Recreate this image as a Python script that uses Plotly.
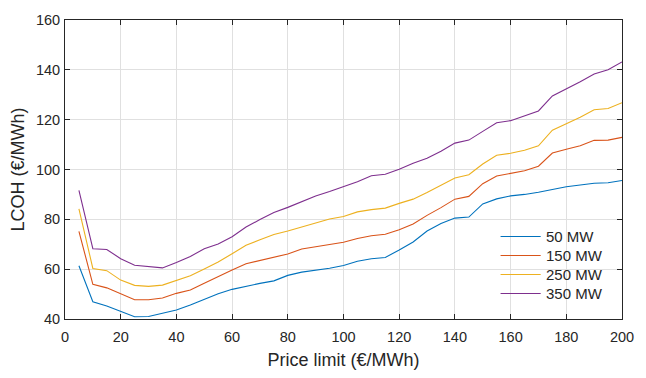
import plotly.graph_objects as go

# Price limit (€/MWh)
price_limit = list(range(5, 205, 5))

# LCOH (€/MWh) for each electrolyser size
lcoh_50 = [61.4, 46.9, 45.2, 43.2, 40.9, 41.0, 42.2, 43.6, 45.6, 47.8,
           50.1, 51.9, 53.2, 54.3, 55.3, 57.5, 58.8, 59.5, 60.4, 61.5,
           63.2, 64.2, 64.7, 67.7, 70.9, 75.3, 78.3, 80.5, 80.9, 86.2,
           88.2, 89.4, 90.0, 90.9, 92.1, 93.1, 93.8, 94.5, 94.7, 95.6]
lcoh_150 = [75.2, 53.9, 52.5, 50.0, 47.7, 47.7, 48.4, 50.3, 51.6, 54.3,
            57.1, 59.7, 62.2, 63.4, 64.7, 66.1, 68.1, 69.1, 69.9, 70.8,
            72.3, 73.4, 74.0, 75.8, 78.1, 81.6, 84.7, 88.1, 89.2, 94.3,
            97.4, 98.3, 99.5, 101.3, 106.6, 108.1, 109.5, 111.7, 111.8, 112.9]
lcoh_250 = [84.2, 60.3, 59.4, 55.6, 53.5, 53.1, 53.6, 55.6, 57.4, 60.1,
            62.9, 66.2, 69.6, 71.8, 73.9, 75.3, 77.0, 78.7, 80.1, 81.1,
            83.0, 83.9, 84.5, 86.4, 88.1, 90.8, 93.8, 96.6, 97.9, 102.2,
            105.7, 106.5, 107.7, 109.5, 115.8, 118.3, 121.0, 124.0, 124.5, 126.8]
lcoh_350 = [91.6, 68.2, 67.9, 64.2, 61.6, 61.0, 60.5, 62.7, 65.1, 68.2,
            70.1, 73.0, 76.9, 79.9, 82.7, 84.8, 87.0, 89.4, 91.2, 93.2,
            95.1, 97.5, 98.1, 100.1, 102.5, 104.5, 107.3, 110.6, 111.8, 115.3,
            118.8, 119.6, 121.6, 123.5, 129.5, 132.2, 135.2, 138.3, 140.0, 143.2]

series_names = ["50 MW", "150 MW", "250 MW", "350 MW"]
series_values = [lcoh_50, lcoh_150, lcoh_250, lcoh_350]
colors = ["#0072BD", "#D95319", "#EDB120", "#7E2F8E"]

x_ticks = list(range(0, 201, 20))
y_ticks = list(range(40, 161, 20))

FONT = "Liberation Sans, Arial, sans-serif"
INK = "#262626"

fig = go.Figure()
for name, vals, col in zip(series_names, series_values, colors):
    fig.add_trace(go.Scatter(x=price_limit, y=vals, mode="lines", name=name,
                             line=dict(color=col, width=1.1), showlegend=False))

axis_common = dict(
    showline=True, linecolor=INK, linewidth=1, mirror="ticks",
    ticks="inside", ticklen=5, tickcolor=INK, tickwidth=1,
    showgrid=True, gridcolor="#e0e0e0", gridwidth=1, zeroline=False,
    tickfont=dict(family=FONT, size=14.5, color=INK),
)

fig.update_xaxes(range=[0, 200], tickvals=x_ticks, ticklabelstandoff=5,
                 title=dict(text="Price limit (€/MWh)", standoff=8,
                            font=dict(family=FONT, size=18, color=INK)),
                 **axis_common)
fig.update_yaxes(range=[40, 160], tickvals=y_ticks, ticklabelstandoff=1,
                 title=dict(text="LCOH (€/MWh)", standoff=6,
                            font=dict(family=FONT, size=18, color=INK)),
                 **axis_common)

# Legend drawn in paper coordinates (box-off style, long sample lines)
leg_x0, leg_x1, leg_text_x = 0.782, 0.854, 0.860
leg_top, leg_step = 0.276, 0.0635
for i, (name, col) in enumerate(zip(series_names, colors)):
    yy = leg_top - i * leg_step
    fig.add_shape(type="line", xref="paper", yref="paper",
                  x0=leg_x0, x1=leg_x1, y0=yy, y1=yy,
                  line=dict(color=col, width=1.1))
    fig.add_annotation(xref="paper", yref="paper", x=leg_text_x, y=yy,
                       text=name, showarrow=False, xanchor="left", yanchor="middle",
                       font=dict(family=FONT, size=15, color=INK))

fig.update_layout(
    width=646, height=378,
    margin=dict(l=65, r=12, t=13, b=56),
    plot_bgcolor="white", paper_bgcolor="white",
    showlegend=False,
)

fig.write_html("out.html")
